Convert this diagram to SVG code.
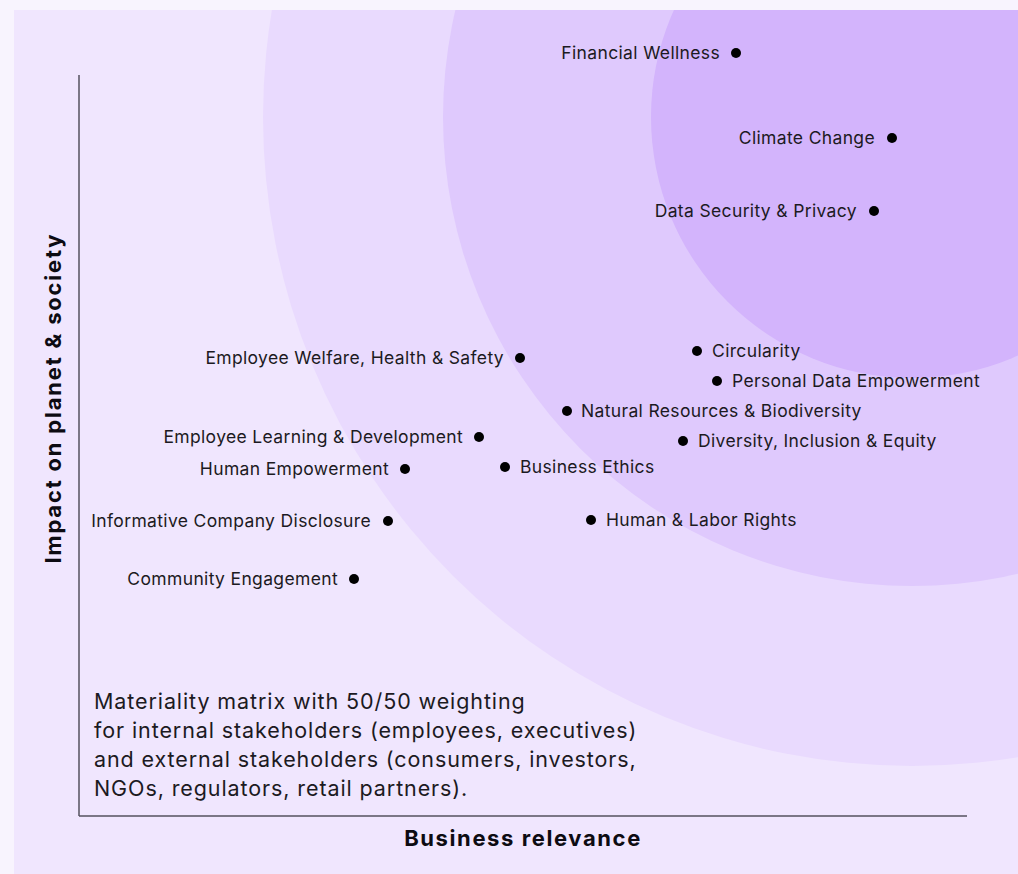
<svg xmlns="http://www.w3.org/2000/svg" width="1018" height="874" viewBox="0 0 1018 874">
<defs>
<clipPath id="panel"><rect x="14" y="10" width="1004" height="864"/></clipPath>
<style>
.lbl{font-family:Inter,"Noto Sans",sans-serif;font-size:17.5px;letter-spacing:0.35px;fill:#1c1a22}
.ttl{font-family:Inter,"Noto Sans",sans-serif;font-size:22px;font-weight:700;letter-spacing:1.6px;fill:#0d0b12}
.ytl{letter-spacing:1.8px}
.cap{font-family:Inter,"Noto Sans",sans-serif;font-size:21.5px;letter-spacing:0.9px;fill:#1c1a22}
.dot{fill:#000}
.axis{stroke:#55505e;stroke-width:1.5;fill:none}
</style>
</defs>
<rect x="0" y="0" width="1018" height="874" fill="#f8f4fe"/>
<g id="background" clip-path="url(#panel)">
<rect x="14" y="10" width="1004" height="864" fill="#f0e6fe"/>
<circle cx="912" cy="117" r="649" fill="#e9dafe"/>
<circle cx="912" cy="117" r="469" fill="#dfc9fd"/>
<circle cx="912" cy="117" r="261" fill="#d3b4fc"/>
</g>
<g id="axes">
<line class="axis" x1="79" y1="75" x2="79" y2="816"/>
<line class="axis" x1="79" y1="816" x2="967" y2="816"/>
<text class="ttl ytl" transform="translate(61,398) rotate(-90)" text-anchor="middle">Impact on planet &amp; society</text>
<text class="ttl" x="523" y="846" text-anchor="middle">Business relevance</text>
</g>
<g id="n-financial"><text class="lbl" x="720" y="59" text-anchor="end">Financial Wellness</text><circle class="dot" cx="736" cy="53" r="5"/></g>
<g id="n-climate"><text class="lbl" x="875" y="144" text-anchor="end">Climate Change</text><circle class="dot" cx="892" cy="138" r="5"/></g>
<g id="n-datasec"><text class="lbl" x="857" y="217" text-anchor="end">Data Security &amp; Privacy</text><circle class="dot" cx="874" cy="211" r="5"/></g>
<g id="n-welfare"><text class="lbl" x="504" y="364" text-anchor="end">Employee Welfare, Health &amp; Safety</text><circle class="dot" cx="520" cy="358" r="5"/></g>
<g id="n-learning"><text class="lbl" x="463" y="443" text-anchor="end">Employee Learning &amp; Development</text><circle class="dot" cx="479" cy="437" r="5"/></g>
<g id="n-humanemp"><text class="lbl" x="389" y="475" text-anchor="end">Human Empowerment</text><circle class="dot" cx="405" cy="469" r="5"/></g>
<g id="n-disclosure"><text class="lbl" x="371" y="527" text-anchor="end">Informative Company Disclosure</text><circle class="dot" cx="388" cy="521" r="5"/></g>
<g id="n-community"><text class="lbl" x="338" y="585" text-anchor="end">Community Engagement</text><circle class="dot" cx="354" cy="579" r="5"/></g>
<g id="n-circularity"><circle class="dot" cx="697" cy="351" r="5"/><text class="lbl" x="712" y="357">Circularity</text></g>
<g id="n-personaldata"><circle class="dot" cx="717" cy="381" r="5"/><text class="lbl" x="732" y="387">Personal Data Empowerment</text></g>
<g id="n-natural"><circle class="dot" cx="567" cy="411" r="5"/><text class="lbl" x="581" y="417">Natural Resources &amp; Biodiversity</text></g>
<g id="n-diversity"><circle class="dot" cx="683" cy="441" r="5"/><text class="lbl" x="698" y="447">Diversity, Inclusion &amp; Equity</text></g>
<g id="n-ethics"><circle class="dot" cx="505" cy="467" r="5"/><text class="lbl" x="520" y="473">Business Ethics</text></g>
<g id="n-labor"><circle class="dot" cx="591" cy="520" r="5"/><text class="lbl" x="606" y="526">Human &amp; Labor Rights</text></g>
<g id="caption">
<text class="cap" x="94" y="709">Materiality matrix with 50/50 weighting</text>
<text class="cap" x="94" y="738">for internal stakeholders (employees, executives)</text>
<text class="cap" x="94" y="767">and external stakeholders (consumers, investors,</text>
<text class="cap" x="94" y="796">NGOs, regulators, retail partners).</text>
</g>
<g id="connectors"/>
</svg>
